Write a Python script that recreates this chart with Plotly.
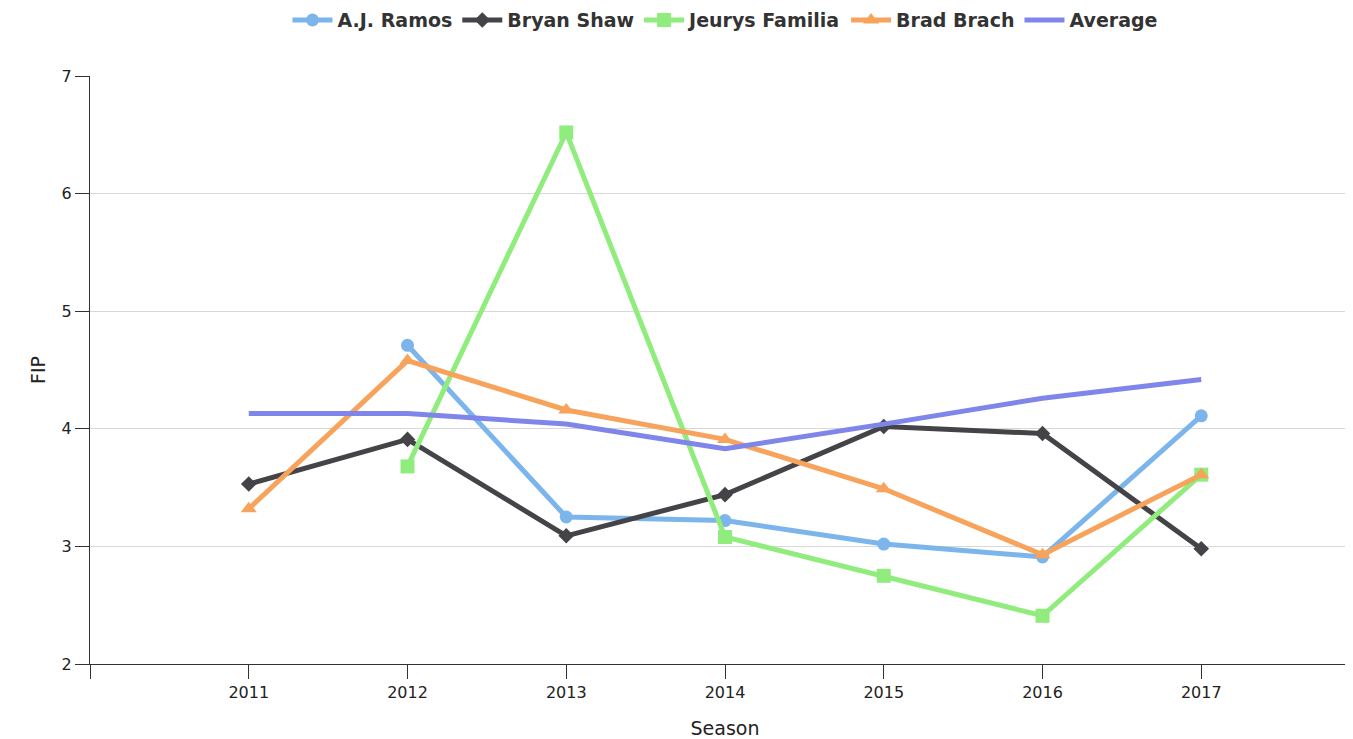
import plotly.graph_objects as go

seasons = [2011, 2012, 2013, 2014, 2015, 2016, 2017]
ramos = [None, 4.71, 3.25, 3.22, 3.02, 2.91, 4.11]
shaw = [3.53, 3.91, 3.09, 3.44, 4.02, 3.96, 2.98]
familia = [None, 3.68, 6.52, 3.08, 2.75, 2.41, 3.61]
brach = [3.32, 4.58, 4.16, 3.91, 3.49, 2.93, 3.61]
average = [4.13, 4.13, 4.04, 3.83, 4.04, 4.26, 4.42]

series = [
    ("A.J. Ramos", ramos, "#7cb5ec", "circle", 13),
    ("Bryan Shaw", shaw, "#434348", "diamond", 12),
    ("Jeurys Familia", familia, "#90ed7d", "square", 14),
    ("Brad Brach", brach, "#f7a35c", "triangle-up", 14),
    ("Average", average, "#8085e9", None, 0),
]

fig = go.Figure()
for name, vals, col, sym, sz in series:
    if sym:
        fig.add_trace(go.Scatter(x=seasons, y=vals, name=name, mode="lines+markers",
                                 line=dict(color=col, width=5),
                                 marker=dict(symbol=sym, size=sz, color=col)))
    else:
        fig.add_trace(go.Scatter(x=seasons, y=vals, name=name, mode="lines",
                                 line=dict(color=col, width=5)))

fig.update_layout(
    width=1353, height=739,
    margin=dict(l=82, r=1, t=68, b=83, autoexpand=False),
    paper_bgcolor="white", plot_bgcolor="white",
    font=dict(family="DejaVu Sans", size=16, color="#222"),
    legend=dict(orientation="h", x=0.5, xanchor="center", y=1.095, yanchor="middle",
                font=dict(size=19, color="#333", weight="bold"), itemwidth=40),
    xaxis=dict(range=[2010, 2018], tickvals=list(range(2010, 2019)),
               ticktext=[""] + [str(s) for s in seasons] + [""],
               showgrid=False, showline=True, linecolor="#333", linewidth=1,
               ticks="outside", ticklen=14, tickcolor="#333", automargin=False,
               title=dict(text="Season", font=dict(size=19), standoff=20), zeroline=False),
    yaxis=dict(range=[2, 7], dtick=1, showgrid=True, gridcolor="#d8d8d8",
               showline=True, linecolor="#333", ticks="outside", ticklen=14,
               tickcolor="#333", automargin=False,
               title=dict(text="FIP", font=dict(size=19), standoff=10),
               zeroline=False),
)
fig.write_html("out.html")
